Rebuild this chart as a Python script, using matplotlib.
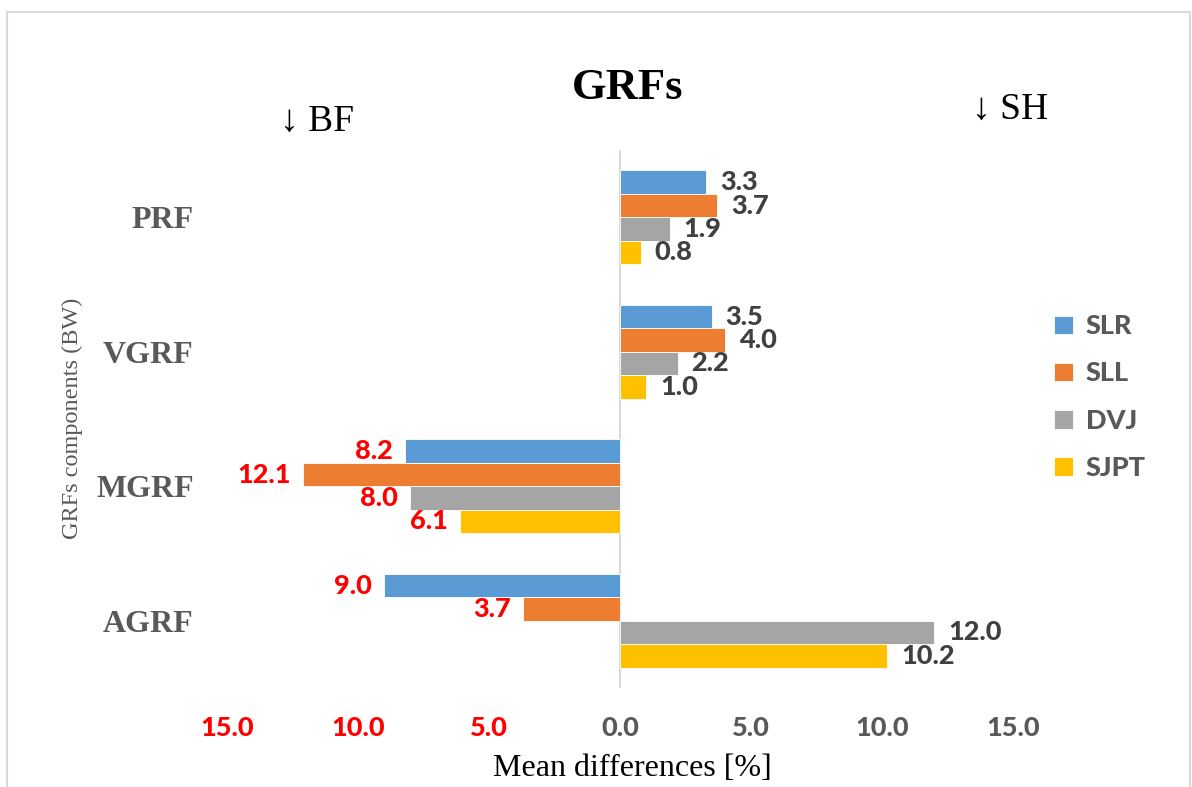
import numpy as np
import matplotlib.pyplot as plt
from matplotlib.patches import Rectangle

# ------------------ Data ------------------
categories = ["PRF", "VGRF", "MGRF", "AGRF"]
series_names = ["SLR", "SLL", "DVJ", "SJPT"]
slr = [3.3, 3.5, -8.2, -9.0]
sll = [3.7, 4.0, -12.1, -3.7]
dvj = [1.9, 2.2, -8.0, 12.0]
sjpt = [0.8, 1.0, -6.1, 10.2]
tick_values = [-15, -10, -5, 0, 5, 10, 15]
tick_labels = ["15.0", "10.0", "5.0", "0.0", "5.0", "10.0", "15.0"]

colors = ["#5B9BD5", "#ED7D31", "#A5A5A5", "#FFC000"]
serif = ["Liberation Serif", "DejaVu Serif"]
sans = ["Lato", "DejaVu Sans"]

fig = plt.figure(figsize=(11.92, 7.87), dpi=100)
ax = fig.add_axes([227 / 1192, 1 - 688 / 787, (1013 - 227) / 1192, (688 - 150) / 787])

# light frame around the whole chart
fig.patches.append(Rectangle((7 / 1192, -0.05), 1183 / 1192, 1.05 - 12 / 787,
                             transform=fig.transFigure, fill=False,
                             edgecolor="#D9D9D9", linewidth=1.5))

# ------------------ Bars ------------------
y = np.arange(len(categories))
h = 0.174
for j, vals in enumerate([slr, sll, dvj, sjpt]):
    pos = y + (j - 1.5) * h
    ax.barh(pos, vals, height=h, color=colors[j], label=series_names[j],
            edgecolor="white", linewidth=0.6)
    # value labels: red on the left, dark gray on the right
    for p, v in zip(pos, vals):
        if v < 0:
            ax.annotate(f"{abs(v):.1f}", (v, p), xytext=(-9, 0), textcoords="offset points",
                        ha="right", va="center", color="#FF0000", fontsize=19.5,
                        fontweight="black", family=sans)
        else:
            ax.annotate(f"{v:.1f}", (v, p), xytext=(10, 0), textcoords="offset points",
                        ha="left", va="center", color="#404040", fontsize=19.5,
                        fontweight="black", family=sans)

ax.set_xlim(-15, 15)
ax.set_ylim(len(categories) - 0.5, -0.5)
ax.axvline(0, color="#D9D9D9", linewidth=1.5, zorder=0)
for s in ax.spines.values():
    s.set_visible(False)

# x ticks: left side red, right side gray
ax.set_xticks(tick_values)
ax.set_xticklabels(tick_labels, family=sans, fontsize=19.5, fontweight="black")
for lab, v in zip(ax.get_xticklabels(), tick_values):
    lab.set_color("#FF0000" if v < 0 else "#595959")
ax.tick_params(axis="x", length=0, pad=20)

# y ticks (categories)
ax.set_yticks(y)
ax.set_yticklabels(categories, family=serif, fontsize=23, fontweight="bold", color="#595959")
ax.tick_params(axis="y", length=0, pad=24)

# ------------------ Texts ------------------
fig.text(628 / 1192, 1 - 88 / 787, "GRFs", ha="center", va="center",
         family=serif, fontsize=32, fontweight="bold")
fig.text(317 / 1192, 1 - 122 / 787, "↓ BF", ha="center", va="center",
         family=serif, fontsize=27)
fig.text(1010 / 1192, 1 - 110 / 787, "↓ SH", ha="center", va="center",
         family=serif, fontsize=27)
fig.text(632 / 1192, 1 - 768 / 787, "Mean differences [%]", ha="center", va="center",
         family=serif, fontsize=23)
fig.text(72 / 1192, 1 - 418 / 787, "GRFs components (BW)", ha="center", va="center",
         rotation=90, family=serif, fontsize=17.5, color="#595959")

# ------------------ Legend ------------------
leg = ax.legend(loc="center left", bbox_to_anchor=(1030 / 1192, 1 - 397 / 787),
                bbox_transform=fig.transFigure, frameon=False,
                prop={"family": sans, "size": 19.5, "weight": "black"},
                handlelength=0.7, handleheight=0.7, handletextpad=0.45,
                labelspacing=0.85, labelcolor="#595959")

fig.savefig("out.png", dpi=100)
